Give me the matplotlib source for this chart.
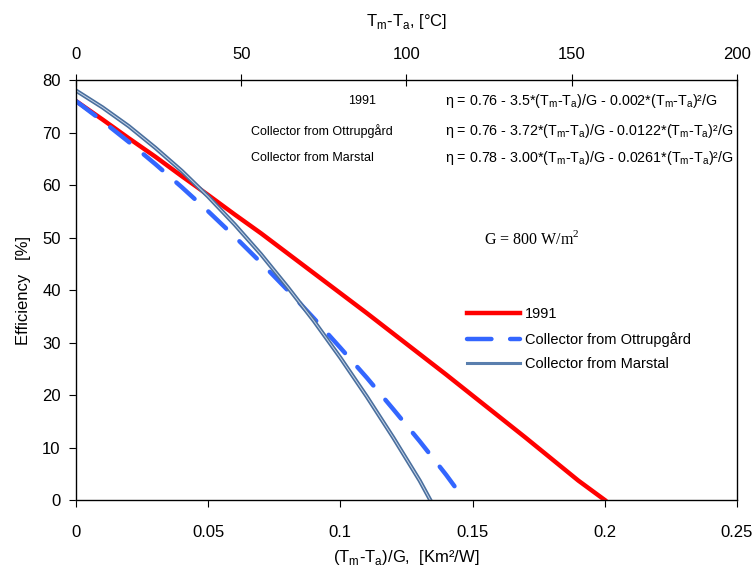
import matplotlib.pyplot as plt

plt.rcParams['font.family'] = ['Liberation Sans', 'DejaVu Sans']

# (Tm-Ta)/G  [Km2/W]
x = [0, 0.01, 0.02, 0.03, 0.04, 0.05, 0.06, 0.07, 0.08, 0.09, 0.10,
     0.11, 0.12, 0.13, 0.14, 0.15, 0.16, 0.17, 0.18, 0.19, 0.20]
eff_1991 = [76, 72.5, 68.9, 65.4, 61.7, 58.1, 54.4, 50.8, 47.0, 43.2, 39.4,
            35.6, 31.7, 27.8, 23.9, 19.9, 15.9, 11.9, 7.8, 3.7, 0]

x_ott = [0, 0.01, 0.02, 0.03, 0.04, 0.05, 0.06, 0.07, 0.08, 0.09, 0.10,
         0.11, 0.12, 0.13, 0.14, 0.147]
eff_ott = [76, 72.2, 68.2, 64.0, 59.6, 55.0, 50.2, 45.2, 40.0, 34.6, 29.0,
           23.3, 17.3, 11.2, 4.8, 0]

x_mar = [0, 0.01, 0.02, 0.03, 0.04, 0.05, 0.06, 0.07, 0.08, 0.09, 0.10,
         0.11, 0.12, 0.13, 0.134]
eff_mar = [78, 74.8, 71.2, 67.1, 62.7, 57.8, 52.5, 46.8, 40.6, 34.1, 27.1,
           19.7, 11.9, 3.7, 0]

labels = ['1991', 'Collector from Ottrupgård', 'Collector from Marstal']
sub = r'(T$_\mathregular{m}$-T$_\mathregular{a}$)'
equations = ['η = 0.76 - 3.5*' + sub + '/G - 0.002*' + sub + '²/G',
             'η = 0.76 - 3.72*' + sub + '/G - 0.0122*' + sub + '²/G',
             'η = 0.78 - 3.00*' + sub + '/G - 0.0261*' + sub + '²/G']
G = 800

fig = plt.figure(figsize=(7.52, 5.66), dpi=100)
ax = fig.add_axes([0.101, 0.1166, 0.879, 0.742])

ax.plot(x, eff_1991, color='#ff0000', lw=3.2, label=labels[0])
ax.plot(x_ott, eff_ott, color='#3366ff', lw=3.2, dashes=[5.5, 4.2],
        dash_capstyle='round', label=labels[1])
ax.plot(x_mar, eff_mar, color='#4a6f9e', lw=3.0)
ax.plot(x_mar, eff_mar, color='#c5d3e6', lw=0.7)
# legend handle for the double line
ax.plot([], [], color='#5a7fae', lw=2.2, label=labels[2])

ax.set_xlim(0, 0.25)
ax.set_ylim(0, 80)
ax.set_xticks([0, 0.05, 0.1, 0.15, 0.2, 0.25])
ax.set_xticklabels(['0', '0.05', '0.1', '0.15', '0.2', '0.25'])
ax.set_yticks(range(0, 81, 10))
ax.tick_params(labelsize=12, length=5, width=0.8, color='black')
ax.tick_params(axis='y', pad=6)
ax.tick_params(axis='x', pad=13)
for s in ax.spines.values():
    s.set_color('#555555')
    s.set_linewidth(1.0)

ax.set_xlabel(r'(T$_\mathregular{m}$-T$_\mathregular{a}$)/G,  [Km²/W]', fontsize=12, labelpad=6)
ax.set_ylabel('Efficiency   [%]', fontsize=12, labelpad=8)

top = ax.twiny()
top.set_xlim(0, 0.25 * G)
top.set_xticks([0, 50, 100, 150, 200])
top.tick_params(labelsize=12, direction='inout', length=8, width=0.8, pad=9)
top.set_xlabel(r'T$_\mathregular{m}$-T$_\mathregular{a}$, [°C]', fontsize=12, labelpad=15)

row_y = [76.0, 70.3, 65.2]
ax.text(0.1135, row_y[0], labels[0], fontsize=9, ha='right', va='center')
ax.text(0.0663, row_y[1], labels[1], fontsize=9, ha='left', va='center')
ax.text(0.0663, row_y[2], labels[2], fontsize=9, ha='left', va='center')
for yy, eq in zip(row_y, equations):
    ax.text(0.1395, yy, eq, fontsize=10.3, ha='left', va='center')

ax.text(0.1545, 49.7, r'G = 800 W/m$^\mathregular{2}$', fontsize=11.5, family='Liberation Serif',
        ha='left', va='center')

ax.legend(loc='upper left', bbox_to_anchor=(0.572, 0.49), frameon=False, fontsize=10.5,
          handlelength=3.6, handletextpad=0.35, labelspacing=0.72)

fig.savefig('out.png', dpi=100)
